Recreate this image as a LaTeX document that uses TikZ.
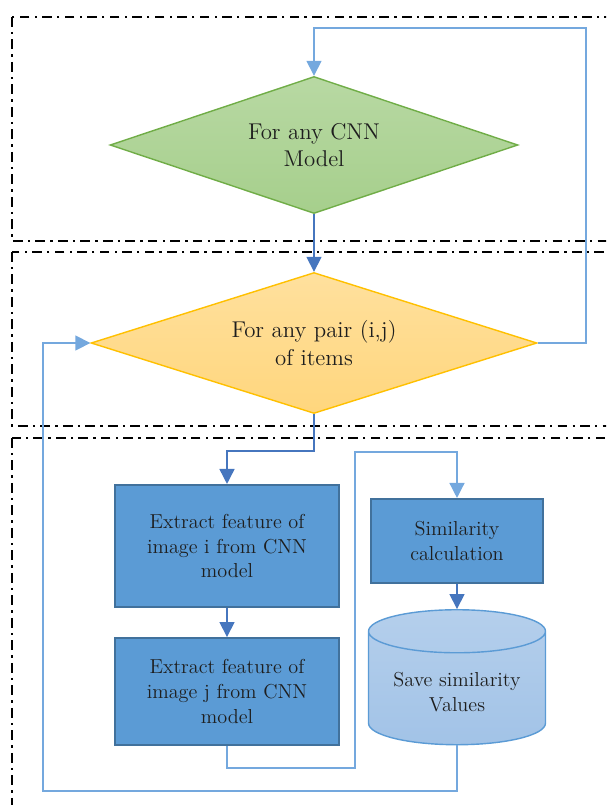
\documentclass[tikz,border=0pt]{standalone}
\usepackage{tikz}
\usetikzlibrary{arrows.meta,positioning,shapes.geometric,calc}
\usepackage{xcolor}
\definecolor{boxblue}{RGB}{91,155,213}
\definecolor{boxedge}{RGB}{65,113,156}
\definecolor{linkblue}{RGB}{116,168,222}
\definecolor{darkblue}{RGB}{70,118,190}
\definecolor{leafgreen}{RGB}{166,207,140}
\definecolor{leafedge}{RGB}{112,173,71}
\definecolor{softorange}{RGB}{255,214,125}
\definecolor{goldedge}{RGB}{255,192,0}
\definecolor{paleblue}{RGB}{162,195,231}
\definecolor{inkgray}{RGB}{30,30,30}
\newcommand{\boxfont}{\fontsize{11.5}{14.2}\selectfont}
\newcommand{\loopfont}{\fontsize{13}{15.5}\selectfont}
\tikzset{
  zone/.style={draw=black, line width=1.3pt, dash pattern=on 5.5pt off 3pt on 1.3pt off 3pt},
  decision/.style={diamond, aspect=3, draw=leafedge, thick, top color=leafgreen!80!white, bottom color=leafgreen,
                   align=center, inner sep=0pt, font=\loopfont, text=inkgray},
  decisionorange/.style={decision, draw=goldedge, top color=softorange!75!white, bottom color=softorange},
  process/.style={rectangle, draw=boxedge, line width=1.2pt, fill=boxblue, align=center,
                  inner sep=2pt, font=\boxfont, text=inkgray},
  store/.style={cylinder, shape border rotate=90, aspect=0.31, draw=boxblue, thick,
                top color=paleblue!80!white, bottom color=paleblue, align=center, font=\boxfont, text=inkgray},
  flow/.style={-{Triangle[length=3mm,width=3mm]}, line width=0.8pt, linkblue},
  flowdark/.style={-{Triangle[length=3mm,width=3mm]}, line width=0.9pt, darkblue},
}

\begin{document}
\begin{tikzpicture}[x=0.02cm, y=-0.02cm]
\useasboundingbox (0,0) rectangle (606,805);
\clip (0,0) rectangle (606,805);

% stage frames
\draw[zone] (12,17) rectangle (640,241);
\draw[zone] (12,252) rectangle (640,426);
\draw[zone] (12,438) rectangle (640,860);

% loops
\node[decision, minimum width=8.16cm, minimum height=2.74cm] (cnn) at (314,145) {For any CNN\\Model};
\node[decisionorange, minimum width=8.92cm, minimum height=2.82cm] (pair) at (314,343) {For any pair (i,j)\\of items};

% feature extraction
\node[process, minimum width=4.48cm, minimum height=2.44cm] (feati) at (227,546) {Extract feature of\\image i from CNN\\model};
\node[process, below=0.58cm of feati, minimum width=4.48cm, minimum height=2.14cm] (featj) {Extract feature of\\image j from CNN\\model};

% similarity
\node[process, minimum width=3.44cm, minimum height=1.68cm] (simcalc) at (457,541) {Similarity\\calculation};
\node[store, below=0.5cm of simcalc, minimum width=3.54cm, minimum height=2.7cm] (saved) {\\[-6.5pt]Save similarity\\Values};

\coordinate (rtop) at (586,28);
\coordinate (split) at (314,451);
\coordinate (jturn) at (355,768);
\coordinate (cross) at (355,452);
\coordinate (lbot) at (43,791);

\draw[flow] (pair.east) -| (rtop) -| (cnn.north);
\draw[flowdark] (cnn.south) -- (pair.north);
\draw[flowdark] (pair.south) -- (split) -| (feati.north);
\draw[flowdark] (feati.south) -- (featj.north);
\draw[flow] (featj.south) |- (jturn) -- (cross) -| (simcalc.north);
\draw[flowdark] (simcalc.south) -- (saved.north);
\draw[flow] (saved.south) |- (lbot) |- (pair.west);
\end{tikzpicture}
\end{document}
